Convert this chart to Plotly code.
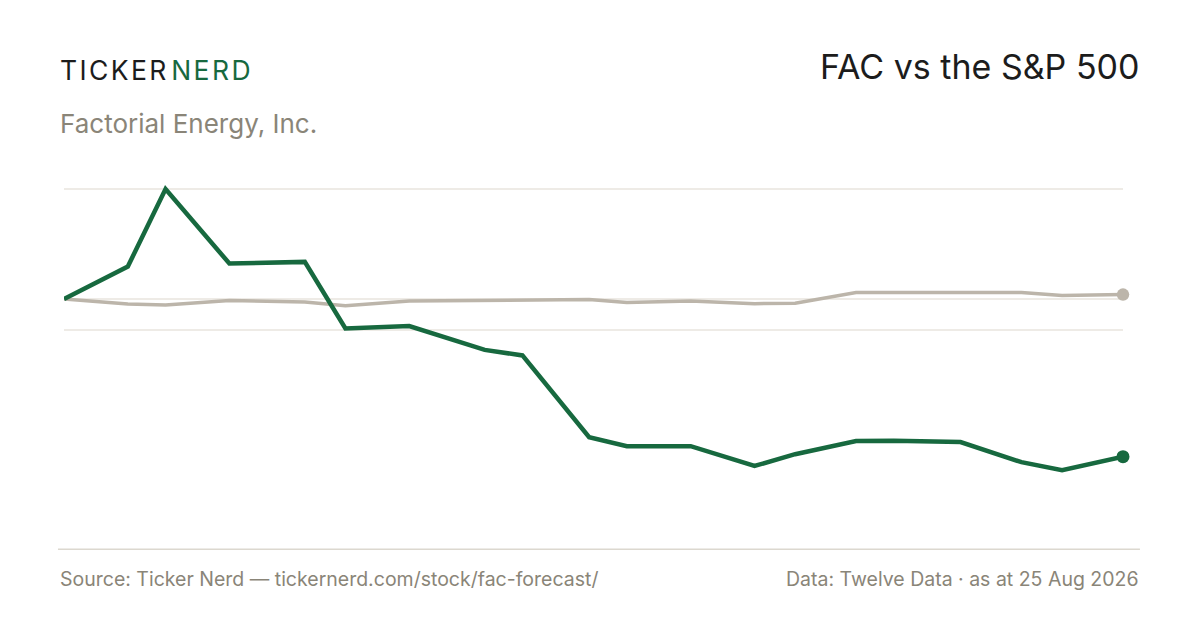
import plotly.graph_objects as go

# dates of the price points (daily closes, rebased)
dates = [
    "2025-08-25", "2025-09-16", "2025-09-29", "2025-10-21", "2025-11-16",
    "2025-11-30", "2025-12-22", "2026-01-17", "2026-01-30", "2026-02-22",
    "2026-03-07", "2026-03-29", "2026-04-20", "2026-05-04", "2026-05-25",
    "2026-06-07", "2026-06-30", "2026-07-21", "2026-08-04", "2026-08-25",
]

# % change since first date
fac_pct = [0, 11.8, 40.0, 12.9, 13.5, -10.7, -9.8, -18.5, -20.5, -50.2,
           -53.5, -53.5, -60.7, -56.4, -51.6, -51.5, -52.0, -59.3, -62.2, -57.3]
spx_pct = [0, -1.8, -2.2, -0.5, -1.1, -2.4, -0.7, -0.4, -0.3, -0.2,
           -1.3, -0.7, -1.7, -1.5, 2.4, 2.5, 2.4, 2.4, 1.3, 1.6]

grid_vals = [40, 0, -11.3]

GREEN = "#17693f"
GREY = "#bcb5aa"
MUTED = "#8a8578"
FONT = "Inter, Roboto, sans-serif"

fig = go.Figure()

fig.add_trace(go.Scatter(
    x=dates, y=spx_pct, mode="lines", cliponaxis=False,
    line=dict(color=GREY, width=3.5), hoverinfo="skip", showlegend=False,
))
fig.add_trace(go.Scatter(
    x=dates[-1:], y=spx_pct[-1:], mode="markers", cliponaxis=False,
    marker=dict(color=GREY, size=12.5), hoverinfo="skip", showlegend=False,
))
fig.add_trace(go.Scatter(
    x=dates, y=fac_pct, mode="lines", cliponaxis=False,
    line=dict(color=GREEN, width=4.5), hoverinfo="skip", showlegend=False,
))
fig.add_trace(go.Scatter(
    x=dates[-1:], y=fac_pct[-1:], mode="markers", cliponaxis=False,
    marker=dict(color=GREEN, size=13), hoverinfo="skip", showlegend=False,
))

fig.update_layout(
    width=1200, height=630,
    margin=dict(l=56, r=85, t=162, b=90),
    paper_bgcolor="white", plot_bgcolor="white",
    font=dict(family=FONT, color=MUTED),
    xaxis=dict(
        range=[dates[0], dates[-1]], showgrid=False, zeroline=False,
        showticklabels=False, showline=False, fixedrange=True,
    ),
    yaxis=dict(
        range=[-90.5, 46.9], tickvals=grid_vals, showticklabels=False,
        gridcolor="#eeebe6", gridwidth=1.5, zeroline=False, showline=False,
        fixedrange=True,
    ),
)

# bottom rule
fig.add_shape(
    type="line", xref="paper", yref="paper",
    x0=-0.0057, x1=1.016, y0=-0.003, y1=-0.003,
    line=dict(color="#dcd8cf", width=1.5),
)

hs = "\u200a"
fig.add_annotation(
    xref="paper", yref="paper", x=-0.0057, y=1.265, xanchor="left", yanchor="middle",
    text=f"<span style='color:#1c1c1c'>{hs.join('TICKER')}</span>{hs}{hs}"
         f"<span style='color:{GREEN}'>{hs.join('NERD')}</span>",
    showarrow=False, font=dict(family=FONT, size=26.5),
)
fig.add_annotation(
    xref="paper", yref="paper", x=-0.0057, y=1.124, xanchor="left", yanchor="middle",
    text="Factorial Energy, Inc.", showarrow=False,
    font=dict(family=FONT, size=26, color=MUTED),
)
fig.add_annotation(
    xref="paper", yref="paper", x=1.017, y=1.273, xanchor="right", yanchor="middle",
    text="FAC vs the S&P 500", showarrow=False,
    font=dict(family=FONT, size=34, color="#1c1c1c"),
)
fig.add_annotation(
    xref="paper", yref="paper", x=-0.0057, y=-0.082, xanchor="left", yanchor="middle",
    text="Source: Ticker Nerd — tickernerd.com/stock/fac-forecast/", showarrow=False,
    font=dict(family=FONT, size=19.5, color=MUTED),
)
fig.add_annotation(
    xref="paper", yref="paper", x=1.017, y=-0.082, xanchor="right", yanchor="middle",
    text="Data: Twelve Data · as at 25 Aug 2026", showarrow=False,
    font=dict(family=FONT, size=19.5, color=MUTED),
)

fig.write_html("out.html", config={"displayModeBar": False})
